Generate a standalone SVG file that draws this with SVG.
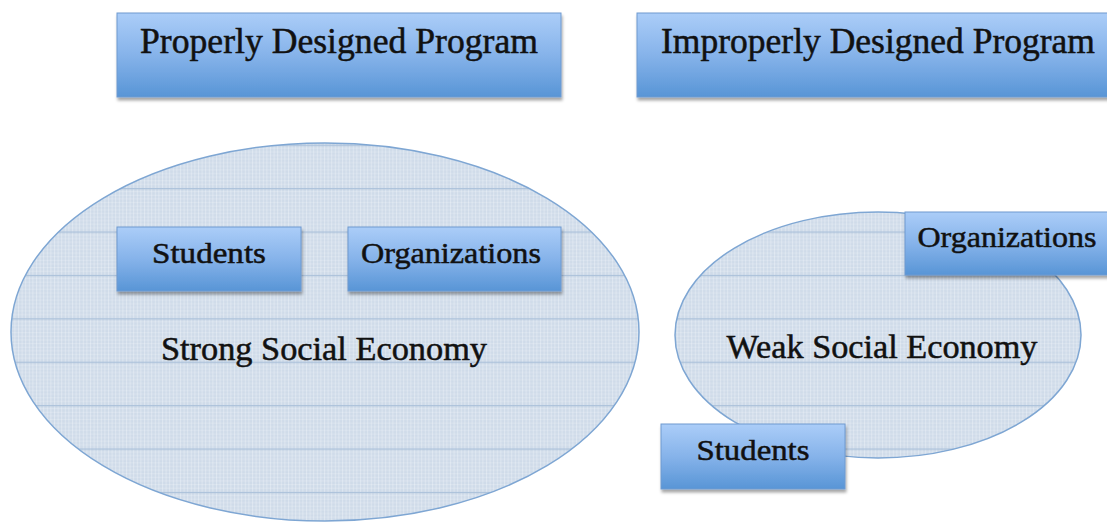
<svg xmlns="http://www.w3.org/2000/svg" width="1107" height="522" viewBox="0 0 1107 522">
<defs>
<linearGradient id="boxg" x1="0" y1="0" x2="0" y2="1">
<stop offset="0" stop-color="#abcdf8"/>
<stop offset="0.5" stop-color="#86b3ea"/>
<stop offset="1" stop-color="#5895d6"/>
</linearGradient>
<pattern id="grid" patternUnits="userSpaceOnUse" x="0" y="14.5" width="3.6" height="43.4">
<rect width="3.6" height="43.4" fill="#cfdbe9"/>
<rect x="0" y="0" width="1" height="43.4" fill="#ffffff" opacity="0.3"/>
<path d="M0 3.6H3.6M0 7.2H3.6M0 10.8H3.6M0 14.4H3.6M0 18H3.6M0 21.7H3.6M0 25.3H3.6M0 28.9H3.6M0 32.5H3.6M0 36.1H3.6M0 39.7H3.6" stroke="#ffffff" stroke-width="0.8" opacity="0.25"/>
<rect x="0" y="0" width="3.6" height="1.2" fill="#abc1da"/>
</pattern>
<filter id="sh" x="-10%" y="-20%" width="120%" height="150%">
<feDropShadow dx="1" dy="3" stdDeviation="1.5" flood-color="#000" flood-opacity="0.35"/>
</filter>
</defs>
<style>
.box{fill:url(#boxg);stroke:#6f9ad0;stroke-width:1}
.ell{fill:url(#grid);stroke:#7ea6d3;stroke-width:1.5}
.t{font-family:"Liberation Serif","DejaVu Serif",serif;fill:#111;stroke:#111;stroke-width:0.5;text-anchor:middle}
</style>
<g id="ellipse-strong">
<ellipse class="ell" cx="325" cy="332" rx="314" ry="189"/>
<text class="t" x="324" y="360" font-size="33" textLength="326" lengthAdjust="spacingAndGlyphs">Strong Social Economy</text>
</g>
<g id="ellipse-weak">
<ellipse class="ell" cx="878" cy="335" rx="203" ry="123"/>
<text class="t" x="882" y="358" font-size="33" textLength="311" lengthAdjust="spacingAndGlyphs">Weak Social Economy</text>
</g>
<g id="proper">
<rect class="box" x="117" y="13" width="444" height="84" filter="url(#sh)"/>
<text class="t" x="339" y="53" font-size="35" textLength="398" lengthAdjust="spacingAndGlyphs">Properly Designed Program</text>
</g>
<g id="improper">
<rect class="box" x="637" y="13" width="475" height="84" filter="url(#sh)"/>
<text class="t" x="878" y="53" font-size="35" textLength="434" lengthAdjust="spacingAndGlyphs">Improperly Designed Program</text>
</g>
<g id="students-strong">
<rect class="box" x="117" y="227" width="184" height="64" filter="url(#sh)"/>
<text class="t" x="209" y="263" font-size="30" textLength="114" lengthAdjust="spacingAndGlyphs">Students</text>
</g>
<g id="orgs-strong">
<rect class="box" x="348" y="227" width="213" height="64" filter="url(#sh)"/>
<text class="t" x="451" y="263" font-size="30" textLength="180" lengthAdjust="spacingAndGlyphs">Organizations</text>
</g>
<g id="orgs-weak">
<rect class="box" x="905" y="212" width="207" height="63" filter="url(#sh)"/>
<text class="t" x="1007" y="247" font-size="30" textLength="179" lengthAdjust="spacingAndGlyphs">Organizations</text>
</g>
<g id="students-weak">
<rect class="box" x="661" y="424" width="184" height="65" filter="url(#sh)"/>
<text class="t" x="753" y="460" font-size="30" textLength="113" lengthAdjust="spacingAndGlyphs">Students</text>
</g>
<g id="connectors"/>
</svg>
